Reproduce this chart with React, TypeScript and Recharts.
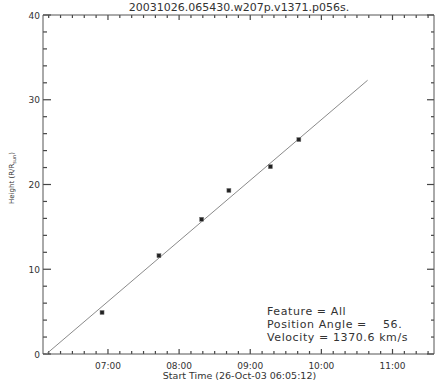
import React from "react";
import { ComposedChart, Scatter, XAxis, YAxis, ReferenceLine, Customized } from "recharts";

const title = "20031026.065430.w207p.v1371.p056s.";
const xAxisTitle = "Start Time (26-Oct-03 06:05:12)";
const startTime = "06:05:12";
const endTime = "11:35";

const xTickLabels = ["07:00", "08:00", "09:00", "10:00", "11:00"];
const yTickLabels = [0, 10, 20, 30, 40];

// measured points (height in solar radii)
const pointTimes = ["06:55", "07:43", "08:19", "08:42", "09:17", "09:41"];
const pointHeights = [4.9, 11.6, 15.9, 19.3, 22.1, 25.3];

// linear fit, end points
const fitTimes = ["06:08", "10:39"];
const fitHeights = [0, 32.3];

const noteLines = ["Feature = All", "Position Angle =", "Velocity = 1370.6 km/s"];
const angleValue = "56.";

const AXIS = "#444";
const TEXT = "#333";
const FONT = "DejaVu Sans";

function toMin(s: string) {
  const [h, m, sec] = s.split(":").map(Number);
  return h * 60 + m + (sec || 0) / 60;
}

const points = pointTimes.map((t, i) => ({ m: toMin(t), h: pointHeights[i] }));
const fit = fitTimes.map((t, i) => ({ m: toMin(t), h: fitHeights[i] }));

const xDomain = [toMin(startTime), toMin(endTime)];
const yDomain = [0, 40];
const xTicks: number[] = [];
for (let m = Math.ceil(xDomain[0] / 10) * 10; m <= xDomain[1]; m += 10) xTicks.push(m);
const yTicks: number[] = [];
for (let v = 0; v <= 40; v += 2) yTicks.push(v);

// plot box is 391 x 339 px; convert tick lengths to data units
const minPerPx = (xDomain[1] - xDomain[0]) / 391;
const unitPerPx = (yDomain[1] - yDomain[0]) / 339;

function xLabel(v: number) {
  return xTickLabels.find((l) => toMin(l) === v);
}

function BottomTick({ x, y, payload }: any) {
  const label = xLabel(payload.value);
  if (!label) return <g />;
  return (
    <text x={x} y={y + 15} textAnchor="middle" fontSize={9} fontFamily={FONT} fill={TEXT}>
      {label}
    </text>
  );
}

function LeftTick({ x, y, payload }: any) {
  if (!yTickLabels.includes(payload.value)) return <g />;
  return (
    <text x={x - 3} y={y + 3.5} textAnchor="end" fontSize={9} fontFamily={FONT} fill={TEXT}>
      {payload.value}
    </text>
  );
}

function Marker(p: any) {
  return <rect x={p.cx - 2} y={p.cy - 2} width={4} height={4} fill="#222" stroke="#777" strokeWidth={0.5} />;
}

function Texts() {
  return (
    <g fontFamily={FONT} fill={TEXT}>
      <text x={239} y={11} textAnchor="middle" fontSize={11}>
        {title}
      </text>
      <text x={239.5} y={378.5} textAnchor="middle" fontSize={9.5}>
        {xAxisTitle}
      </text>
      <text x={14} y={178} textAnchor="middle" fontSize={7} transform="rotate(-90 14 178)">
        Height (R/R<tspan fontSize={5} dy={1.5}>sun</tspan>
        <tspan dy={-1.5}>)</tspan>
      </text>
      {noteLines.map((l, i) => (
        <text key={l} x={267} y={314.5 + i * 13.3} fontSize={11} letterSpacing={0.6}>
          {l}
        </text>
      ))}
      <text x={383} y={327.8} fontSize={11} letterSpacing={0.6}>
        {angleValue}
      </text>
    </g>
  );
}

const axisLine = { stroke: "#555" };

export default function App() {
  const marks: React.ReactNode[] = [];
  xTicks.forEach((m) => {
    const len = (xLabel(m) ? 5 : 3) * unitPerPx;
    marks.push(
      <ReferenceLine key={`b${m}`} segment={[{ x: m, y: 0 }, { x: m, y: len }]} stroke={AXIS} strokeWidth={1.2} ifOverflow="visible" />,
      <ReferenceLine key={`t${m}`} segment={[{ x: m, y: 40 - len }, { x: m, y: 40 }]} stroke={AXIS} strokeWidth={1.2} ifOverflow="visible" />
    );
  });
  yTicks.forEach((v) => {
    const major = yTickLabels.includes(v);
    const l = (major ? 8 : 4) * minPerPx;
    const r = (major ? 7 : 3) * minPerPx;
    marks.push(
      <ReferenceLine key={`l${v}`} segment={[{ x: xDomain[0], y: v }, { x: xDomain[0] + l, y: v }]} stroke={AXIS} strokeWidth={1.2} ifOverflow="visible" />,
      <ReferenceLine key={`r${v}`} segment={[{ x: xDomain[1] - r, y: v }, { x: xDomain[1], y: v }]} stroke={AXIS} strokeWidth={1.2} ifOverflow="visible" />
    );
  });

  return (
    <div style={{ position: "absolute", left: 0, top: 0, background: "#fff" }}>
      <ComposedChart width={437} height={384} margin={{ top: 0, right: 0, bottom: 0, left: 0 }}>
        <XAxis
          dataKey="m"
          type="number"
          domain={xDomain}
          allowDataOverflow
          ticks={xTicks}
          interval={0}
          height={30}
          tickSize={0}
          tickMargin={0}
          tick={<BottomTick />}
          axisLine={axisLine}
        />
        <XAxis
          xAxisId="top"
          orientation="top"
          type="number"
          domain={xDomain}
          allowDataOverflow
          height={15}
          tick={false}
          tickLine={false}
          axisLine={axisLine}
        />
        <YAxis
          dataKey="h"
          type="number"
          domain={yDomain}
          allowDataOverflow
          ticks={yTicks}
          interval={0}
          width={43}
          tickSize={0}
          tickMargin={0}
          tick={<LeftTick />}
          axisLine={axisLine}
        />
        <YAxis
          yAxisId="right"
          orientation="right"
          type="number"
          domain={yDomain}
          allowDataOverflow
          width={3}
          tick={false}
          tickLine={false}
          axisLine={axisLine}
        />
        {marks}
        <Scatter
          data={fit}
          line={{ stroke: "#8a8a8a", strokeWidth: 1 }}
          shape={() => <g />}
          isAnimationActive={false}
        />
        <Scatter data={points} shape={<Marker />} isAnimationActive={false} />
        <Customized component={Texts} />
      </ComposedChart>
    </div>
  );
}
